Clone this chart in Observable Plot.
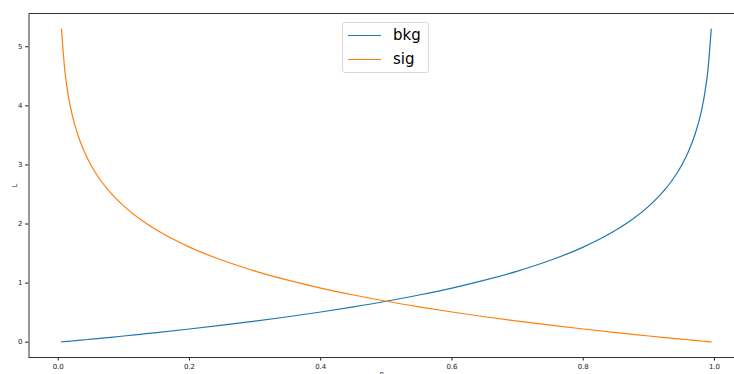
<!DOCTYPE html>
<html>
<head>
<meta charset="utf-8">
<script src="https://cdn.jsdelivr.net/npm/d3@7"></script>
<script src="https://cdn.jsdelivr.net/npm/@observablehq/plot@0.6"></script>
<style>
  html, body { margin: 0; padding: 0; background: #fff; }
  #wrap { position: relative; width: 734px; height: 374px; overflow: hidden; font-family: "DejaVu Sans", sans-serif; }
  #legend { position: absolute; left: 342px; top: 22px; width: 87px; height: 51px; border: 1px solid #d9d9d9; border-radius: 3px; background: rgba(255,255,255,0.8); box-sizing: border-box; }
  .row { position: absolute; left: 5px; height: 20px; display: flex; align-items: center; }
  .sw { width: 33px; height: 0; border-top: 1.2px solid; margin-right: 12px; }
  .lab { font-size: 15px; color: #000; }
</style>
</head>
<body>
<div id="wrap">
  <div id="chart"></div>
  <div id="legend">
    <div class="row" style="top:2px"><div class="sw" style="border-color:#1f77b4"></div><span class="lab">bkg</span></div>
    <div class="row" style="top:26px"><div class="sw" style="border-color:#ff7f0e"></div><span class="lab">sig</span></div>
  </div>
</div>
<script>
const p = [0.005, 0.01, 0.015, 0.02, 0.03, 0.04, 0.05, 0.06, 0.08, 0.1, 0.125, 0.15, 0.2, 0.25, 0.3, 0.35, 0.4, 0.45, 0.5, 0.55, 0.6, 0.65, 0.7, 0.75, 0.8, 0.85, 0.875, 0.9, 0.92, 0.94, 0.95, 0.96, 0.97, 0.98, 0.985, 0.99, 0.995];
const sig = [5.298, 4.605, 4.200, 3.912, 3.507, 3.219, 2.996, 2.813, 2.526, 2.303, 2.079, 1.897, 1.609, 1.386, 1.204, 1.050, 0.916, 0.799, 0.693, 0.598, 0.511, 0.431, 0.357, 0.288, 0.223, 0.163, 0.134, 0.105, 0.083, 0.062, 0.051, 0.041, 0.030, 0.020, 0.015, 0.010, 0.005];
const bkg = [0.005, 0.010, 0.015, 0.020, 0.030, 0.041, 0.051, 0.062, 0.083, 0.105, 0.134, 0.163, 0.223, 0.288, 0.357, 0.431, 0.511, 0.598, 0.693, 0.799, 0.916, 1.050, 1.204, 1.386, 1.609, 1.897, 2.079, 2.303, 2.526, 2.813, 2.996, 3.219, 3.507, 3.912, 4.200, 4.605, 5.298];
const xTicks = [0, 0.2, 0.4, 0.6, 0.8, 1.0];
const yTicks = [0, 1, 2, 3, 4, 5];
const seriesNames = ["bkg", "sig"];
const seriesColors = ["#1f77b4", "#ff7f0e"];

const data = [];
p.forEach((v, i) => { data.push({p: v, L: bkg[i], s: "bkg"}); });
p.forEach((v, i) => { data.push({p: v, L: sig[i], s: "sig"}); });

const chart = Plot.plot({
  width: 734,
  height: 374,
  marginLeft: 28.5,
  marginRight: 0,
  marginTop: 13,
  marginBottom: 17,
  style: {fontFamily: "DejaVu Sans, sans-serif", fontSize: "7px", color: "#222", background: "#fff"},
  x: {domain: [-0.0445, 1.0305], ticks: xTicks, tickFormat: d3.format(".1f"), label: "p", labelAnchor: "center", labelArrow: "none", labelOffset: 18, tickSize: 3.5, tickPadding: 3},
  y: {domain: [-0.259, 5.563], ticks: yTicks, tickFormat: d => String(d), label: "L", labelAnchor: "center", labelArrow: "none", labelOffset: 17, tickSize: 3.5, tickPadding: 3},
  color: {domain: seriesNames, range: seriesColors},
  marks: [
    Plot.line(data, {x: "p", y: "L", z: "s", stroke: "s", strokeWidth: 1.2, curve: "monotone-x"}),
    Plot.frame({stroke: "#333", strokeWidth: 1})
  ]
});
document.getElementById("chart").appendChild(chart);
</script>
</body>
</html>
